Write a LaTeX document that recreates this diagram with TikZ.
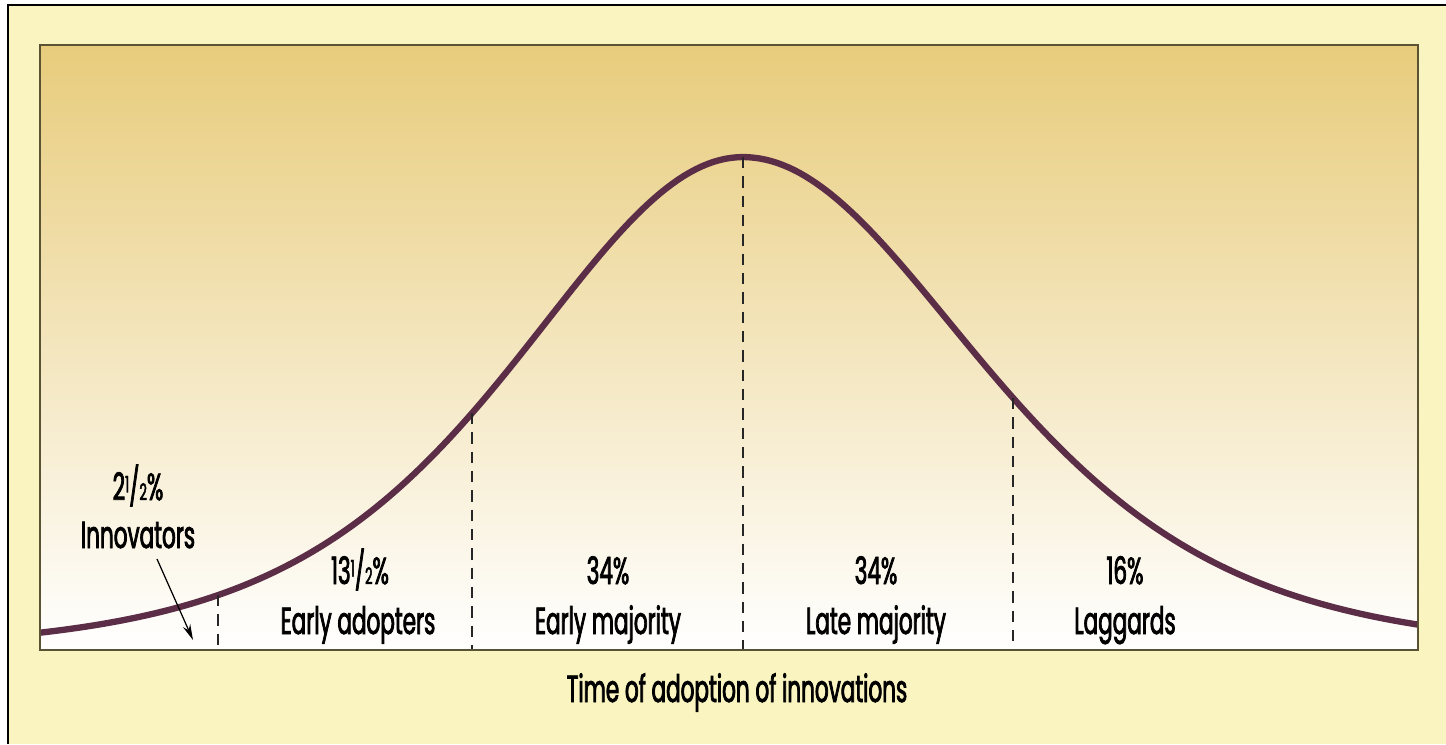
\documentclass[tikz,border=0pt]{standalone}
\usepackage{fontspec}
\setmainfont{Poppins}[FakeStretch=0.57, FakeBold=2]
\usetikzlibrary{arrows.meta}

\definecolor{fondo}{HTML}{FAF5C0}
\definecolor{ocre}{HTML}{E8CC7C}
\definecolor{curva}{HTML}{5B2D47}
\definecolor{marco}{HTML}{5A5333}

\newcommand{\half}{{\fontsize{13}{13}\selectfont\raisebox{0.6ex}{1}}/{\fontsize{13}{13}\selectfont 2}}

\tikzset{
  etiq/.style={anchor=base, inner sep=0pt, font=\fontsize{21.5}{23}\selectfont},
  divis/.style={line width=1pt, dash pattern=on 6.5pt off 4.5pt, black!85},
}

\begin{document}
\begin{tikzpicture}[x=0.02cm, y=-0.02cm]
    \useasboundingbox (0,0) rectangle (1446,744);

    % Fondo
    \fill[white] (0,0) rectangle (1446,744);
    \fill[fondo] (8,5) rectangle (1446,744);
    \draw[line width=1.1pt] (8,744) -- (8,5) -- (1446,5);

    % Zona del grafico
    \shade[top color=ocre, bottom color=white] (40,45) rectangle (1418,650);

    % Curva de adopcion
    \draw[curva, line width=3.6pt, line join=round]
        plot[domain=40:743, samples=120] (\x, {650-493/(cosh((\x-743)/298)^2)})
        -- plot[domain=743:1418, samples=120] (\x, {650-493/(cosh((\x-743)/312)^2)});

    % Divisiones
    \foreach \x/\y [count=\i] in {218/595, 472/413, 743/157, 1013/398} {
        \coordinate (top\i) at (\x,\y);
        \coordinate (bot\i) at (\x,650);
        \draw[divis] (top\i) -- (bot\i);
    }

    % Marco
    \draw[marco, line width=1.4pt] (40,45) rectangle (1418,650);

    % Innovadores
    \node[etiq] (pinnov) at (138,500) {2\half\%};
    \node[etiq] (innov) at (138,548) {Innovators};
    \coordinate (innovtail) at (157,559);
    \coordinate (innovtip) at (193,640);
    \draw[-{Stealth[length=9pt, width=4.5pt]}, line width=0.7pt] (innovtail) -- (innovtip);

    % Grupos
    \node[etiq] (padopt) at (360,584) {13\half\%};
    \node[etiq] (adopt) at (358,634) {Early adopters};
    \node[etiq] (pearly) at (608,584) {34\%};
    \node[etiq] (early) at (608,634) {Early majority};
    \node[etiq] (plate) at (876,584) {34\%};
    \node[etiq] (late) at (876,634) {Late majority};
    \node[etiq] (plag) at (1125,584) {16\%};
    \node[etiq] (lag) at (1125,634) {Laggards};

    % Eje
    \node[etiq] (eje) at (737,702) {Time of adoption of innovations};
\end{tikzpicture}
\end{document}
